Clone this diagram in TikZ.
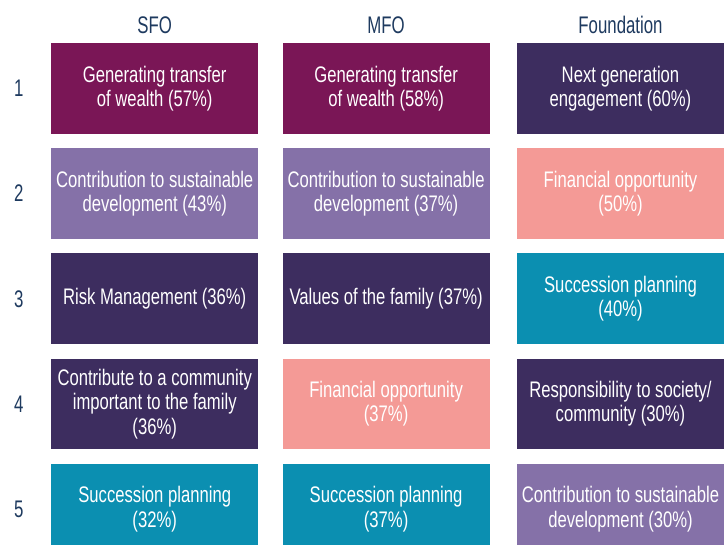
\documentclass[tikz,border=0pt]{standalone}
\usepackage{fontspec}
\setmainfont{Liberation Sans}[FakeStretch=0.74]
\newfontfamily\cabeza{Liberation Sans}[FakeStretch=0.7]
\usetikzlibrary{positioning}
\definecolor{vino}{HTML}{7A1656}
\definecolor{lila}{HTML}{8571A8}
\definecolor{morado}{HTML}{3D2D5F}
\definecolor{salmon}{HTML}{F49A96}
\definecolor{turquesa}{HTML}{0B8FB1}
\definecolor{marino}{HTML}{1E3A5F}
\tikzset{
	caja/.style={minimum width=207pt, minimum height=90.5pt, inner sep=1pt,
		align=center, text=white, font=\fontsize{22.5}{24.5}\selectfont}, % Cajas de la tabla
	titulo/.style={text=marino, font=\cabeza\fontsize{24}{26}\selectfont}, % Encabezados y numeros
	node distance=14.25pt and 24pt % Separacion entre cajas
}

\begin{document}
\begin{tikzpicture}
	\clip (0,0) rectangle (725pt,-545pt);
	% fila 1
	\node[caja, fill=vino, anchor=north west] (s1) at (51pt,-43pt) {Generating transfer\\of wealth (57\%)};
	\node[caja, fill=vino, right=24pt of s1] (m1) {Generating transfer\\of wealth (58\%)};
	\node[caja, fill=morado, right=27pt of m1] (f1) {Next generation\\engagement (60\%)};
	% fila 2
	\node[caja, fill=lila, below=of s1] (s2) {Contribution to sustainable\\development (43\%)};
	\node[caja, fill=lila, below=of m1] (m2) {Contribution to sustainable\\development (37\%)};
	\node[caja, fill=salmon, below=of f1] (f2) {Financial opportunity\\(50\%)};
	% fila 3
	\node[caja, fill=morado, below=of s2] (s3) {Risk Management (36\%)};
	\node[caja, fill=morado, below=of m2] (m3) {Values of the family (37\%)};
	\node[caja, fill=turquesa, below=of f2] (f3) {Succession planning\\(40\%)};
	% fila 4
	\node[caja, fill=morado, below=of s3] (s4) {Contribute to a community\\important to the family\\(36\%)};
	\node[caja, fill=salmon, below=of m3] (m4) {Financial opportunity\\(37\%)};
	\node[caja, fill=morado, below=of f3] (f4) {Responsibility to society/\\community (30\%)};
	% fila 5
	\node[caja, fill=turquesa, below=of s4] (s5) {Succession planning\\(32\%)};
	\node[caja, fill=turquesa, below=of m4] (m5) {Succession planning\\(37\%)};
	\node[caja, fill=lila, below=of f4] (f5) {Contribution to sustainable\\development (30\%)};
	% encabezados
	\node[titulo, above=6pt of s1] (hs) {SFO};
	\node[titulo, above=6pt of m1] (hm) {MFO};
	\node[titulo, above=6pt of f1] (hf) {Foundation};
	% numeros de fila
	\foreach \n in {1,...,5}
		\node[titulo, left=24pt of s\n] (n\n) {\n};
\end{tikzpicture}
\end{document}
